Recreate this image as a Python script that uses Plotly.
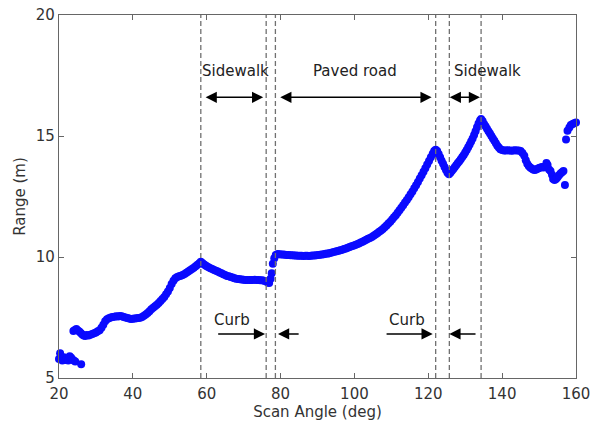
import plotly.graph_objects as go

# ---------------- data ----------------
angle_low = [20.0, 20.3, 20.6, 20.9, 21.3, 21.7, 22.1, 22.5, 22.9, 23.3, 23.6, 24.0, 24.4, 26.0]
range_low = [5.78, 6.02, 5.80, 5.72, 5.86, 5.74, 5.80, 5.72, 5.90, 5.84, 5.76, 5.72, 5.68, 5.57]

angle_a = [23.9, 24.3, 24.7, 25.1, 25.5, 25.9, 26.3, 26.7, 27.1, 27.5, 28.0, 28.5, 29.0, 29.5,
           30.0, 30.5, 31.0, 31.5, 32.0, 32.5, 33.0, 33.5, 34.0, 34.5, 35.0, 35.5, 36.0, 36.5,
           37.0, 37.5, 38.0, 38.5, 39.0, 39.5, 40.0, 40.5, 41.0, 41.5, 42.0, 42.5, 43.0, 43.5,
           44.0, 44.5, 45.0, 45.5, 46.0, 46.5, 47.0, 47.5, 48.0, 48.5, 49.0, 49.5, 50.0, 50.5,
           51.0, 51.5, 52.0, 52.5, 53.0, 53.5, 54.0, 54.5, 55.0, 55.5, 56.0, 56.5, 57.0, 57.5,
           58.0, 58.4, 58.8, 59.2, 59.6, 60.0, 60.5, 61.0, 61.5, 62.0, 62.5, 63.0, 63.5, 64.0,
           64.5, 65.0, 65.5, 66.0, 66.5, 67.0, 67.5, 68.0, 68.5, 69.0, 69.5, 70.0, 70.5, 71.0,
           71.5, 72.0, 72.5, 73.0, 73.5, 74.0, 74.5, 75.0, 75.5, 76.0, 76.5, 76.9]
range_a = [6.94, 6.98, 7.02, 6.96, 6.92, 6.86, 6.80, 6.76, 6.74, 6.78, 6.76, 6.79, 6.82, 6.85,
           6.88, 6.93, 6.97, 7.08, 7.20, 7.35, 7.43, 7.47, 7.50, 7.52, 7.53, 7.55, 7.54, 7.56,
           7.55, 7.52, 7.50, 7.48, 7.46, 7.44, 7.45, 7.46, 7.47, 7.48, 7.49, 7.52, 7.57, 7.62,
           7.69, 7.76, 7.84, 7.90, 7.96, 8.03, 8.10, 8.18, 8.26, 8.35, 8.46, 8.57, 8.72, 8.88,
           9.02, 9.12, 9.17, 9.20, 9.23, 9.26, 9.30, 9.35, 9.40, 9.45, 9.50, 9.56, 9.62, 9.68,
           9.74, 9.80, 9.75, 9.70, 9.66, 9.62, 9.58, 9.54, 9.50, 9.46, 9.43, 9.40, 9.36, 9.33,
           9.29, 9.26, 9.22, 9.20, 9.17, 9.15, 9.12, 9.10, 9.09, 9.08, 9.07, 9.06, 9.05, 9.05,
           9.05, 9.05, 9.05, 9.06, 9.05, 9.05, 9.04, 9.04, 9.02, 9.00, 8.95, 8.93]

angle_curb = [77.3, 77.6, 77.9, 78.3]
range_curb = [9.10, 9.33, 9.72, 9.95]

angle_b = [78.7, 79.2, 79.7, 80.2, 80.7, 81.2, 81.7, 82.2, 82.7, 83.2, 83.7, 84.2, 84.7, 85.2,
           85.7, 86.2, 86.7, 87.2, 87.7, 88.2, 88.7, 89.2, 89.7, 90.2, 90.7, 91.2, 91.7, 92.2,
           92.7, 93.2, 93.7, 94.2, 94.7, 95.2, 95.7, 96.2, 96.7, 97.2, 97.7, 98.2, 98.7, 99.2,
           99.7, 100.2, 100.7, 101.2, 101.7, 102.2, 102.7, 103.2, 103.7, 104.2, 104.7, 105.2,
           105.7, 106.2, 106.7, 107.2, 107.7, 108.2, 108.7, 109.2, 109.7, 110.2, 110.7, 111.2,
           111.7, 112.2, 112.7, 113.2, 113.7, 114.2, 114.7, 115.2, 115.7, 116.2, 116.7, 117.2,
           117.7, 118.2, 118.7, 119.2, 119.7, 120.2, 120.7, 121.2, 121.6, 122.0, 122.4, 122.8,
           123.2, 123.6, 124.0, 124.4, 124.8, 125.2, 125.6, 126.0, 126.4, 126.8, 127.2, 127.6,
           128.0, 128.4, 128.8, 129.2, 129.6, 130.0, 130.4, 130.8, 131.2, 131.6, 132.0, 132.4,
           132.8, 133.2, 133.6, 134.0, 134.3, 134.7, 135.1, 135.5, 135.9, 136.3, 136.7, 137.1,
           137.5, 137.9, 138.3, 138.7, 139.1, 139.5, 140.0, 140.5, 141.0, 141.5, 142.0, 142.5,
           143.0, 143.5, 144.0, 144.5, 145.0, 145.5, 146.0, 146.4, 146.8, 147.2, 147.6, 148.0,
           148.4, 148.8, 149.2, 149.6, 150.0, 150.4, 150.8, 151.2, 151.6, 152.0, 152.3, 152.7,
           153.1, 153.5, 153.8, 154.2, 154.6, 155.0, 155.4, 155.8, 156.2, 156.6, 157.0]
range_b = [10.08, 10.12, 10.11, 10.10, 10.10, 10.09, 10.08, 10.08, 10.07, 10.07, 10.06, 10.06, 10.05, 10.05,
           10.05, 10.04, 10.05, 10.05, 10.04, 10.05, 10.06, 10.06, 10.07, 10.08, 10.09, 10.10, 10.11, 10.13,
           10.14, 10.16, 10.18, 10.20, 10.22, 10.24, 10.26, 10.28, 10.30, 10.33, 10.35, 10.38, 10.41, 10.44,
           10.47, 10.50, 10.53, 10.56, 10.60, 10.63, 10.67, 10.71, 10.75, 10.79, 10.83, 10.88,
           10.93, 10.98, 11.04, 11.10, 11.16, 11.23, 11.30, 11.38, 11.46, 11.55, 11.64, 11.73,
           11.83, 11.93, 12.03, 12.14, 12.25, 12.36, 12.47, 12.59, 12.71, 12.84, 12.97, 13.10,
           13.24, 13.38, 13.52, 13.67, 13.82, 13.97, 14.12, 14.27, 14.38, 14.43, 14.38, 14.26,
           14.12, 13.98, 13.85, 13.72, 13.60, 13.48, 13.42, 13.48, 13.56, 13.64, 13.72, 13.80,
           13.88, 13.96, 14.04, 14.13, 14.22, 14.32, 14.42, 14.53, 14.65, 14.77, 14.90, 15.04,
           15.20, 15.36, 15.52, 15.64, 15.70, 15.62, 15.50, 15.40, 15.30, 15.20, 15.10, 15.00,
           14.90, 14.80, 14.70, 14.60, 14.52, 14.45, 14.42, 14.40, 14.40, 14.41, 14.40, 14.39,
           14.40, 14.41, 14.40, 14.40, 14.38, 14.30, 14.18, 14.00, 13.85, 13.76, 13.70, 13.66,
           13.62, 13.60, 13.62, 13.65, 13.68, 13.70, 13.72, 13.70, 13.74, 13.88, 13.80, 13.62,
           13.55, 13.40, 13.22, 13.18, 13.22, 13.30, 13.38, 13.45, 13.50, 13.55, 12.98]

angle_end = [157.3, 157.7, 158.2, 158.6, 159.1, 159.5, 160.0]
range_end = [14.86, 15.22, 15.35, 15.45, 15.50, 15.53, 15.56]

# region boundaries (dashed lines), deg
boundaries = [58.4, 76.1, 78.6, 122.0, 125.7, 134.3]

# double-headed region arrows: (start, end, y)
region_arrows = [(59.3, 75.3, 16.6), (79.5, 120.9, 16.6), (125.4, 134.0, 16.6)]
region_labels = ["Sidewalk", "Paved road", "Sidewalk"]
region_label_x = [67.7, 100.2, 136.1]
region_label_y = 17.7

# curb arrows: (tail, head, y)
curb_arrows = [(62.7, 75.8, 6.82), (85.3, 79.3, 6.82), (108.3, 121.2, 6.82), (133.2, 125.7, 6.82)]
curb_label_x = [66.9, 114.1]
curb_label_y = 7.4

x_ticks = [20, 40, 60, 80, 100, 120, 140, 160]
y_ticks = [5, 10, 15, 20]

# ---------------- figure ----------------
all_angle = angle_low + angle_a + angle_curb + angle_b + angle_end
all_range = range_low + range_a + range_curb + range_b + range_end

FONT = "DejaVu Sans"
AXC = "#666666"

fig = go.Figure()
fig.add_trace(go.Scatter(
    x=all_angle, y=all_range, mode="markers",
    marker=dict(color="#0a0aff", size=8, line=dict(width=0)),
    cliponaxis=False, showlegend=False,
))

for b in boundaries:
    fig.add_shape(type="line", xref="x", yref="y", x0=b, x1=b, y0=5, y1=20,
                  line=dict(color="#707070", width=1.3, dash="5px,3px"))

annotations = []
for (s, e, y) in region_arrows:
    annotations.append(dict(x=e, y=y, ax=s, ay=y, xref="x", yref="y", axref="x", ayref="y",
                            text="", showarrow=True, arrowhead=2, arrowside="end+start",
                            arrowsize=1.4, arrowwidth=1.6, arrowcolor="#000000",
                            standoff=0, startstandoff=0))
for (t, h, y) in curb_arrows:
    annotations.append(dict(x=h, y=y, ax=t, ay=y, xref="x", yref="y", axref="x", ayref="y",
                            text="", showarrow=True, arrowhead=2, arrowsize=1.4,
                            arrowwidth=1.6, arrowcolor="#000000", standoff=0))
for lab, lx in zip(region_labels, region_label_x):
    annotations.append(dict(x=lx, y=region_label_y, xref="x", yref="y", text=lab,
                            showarrow=False, font=dict(family=FONT, size=15, color="#222222")))
for lx in curb_label_x:
    annotations.append(dict(x=lx, y=curb_label_y, xref="x", yref="y", text="Curb",
                            showarrow=False, font=dict(family=FONT, size=15, color="#222222")))

fig.update_layout(
    width=593, height=428,
    margin=dict(l=59, r=17, t=15, b=50),
    paper_bgcolor="white", plot_bgcolor="white",
    font=dict(family=FONT, size=15, color="#333333"),
    annotations=annotations,
    xaxis=dict(range=[20, 160], tickvals=x_ticks, ticks="inside", ticklen=5,
               tickcolor=AXC, showline=True, linecolor=AXC, linewidth=1.3, mirror="ticks",
               showgrid=False, zeroline=False, automargin=False, ticklabelstandoff=2,
               title=dict(text="Scan Angle (deg)", standoff=4,
                          font=dict(family=FONT, size=15, color="#333333"))),
    yaxis=dict(range=[5, 20], tickvals=y_ticks, ticks="inside", ticklen=5,
               tickcolor=AXC, showline=True, linecolor=AXC, linewidth=1.3, mirror="ticks",
               showgrid=False, zeroline=False, automargin=False,
               title=dict(text="Range (m)", standoff=6,
                          font=dict(family=FONT, size=15, color="#333333"))),
)

fig.write_html("out.html")
